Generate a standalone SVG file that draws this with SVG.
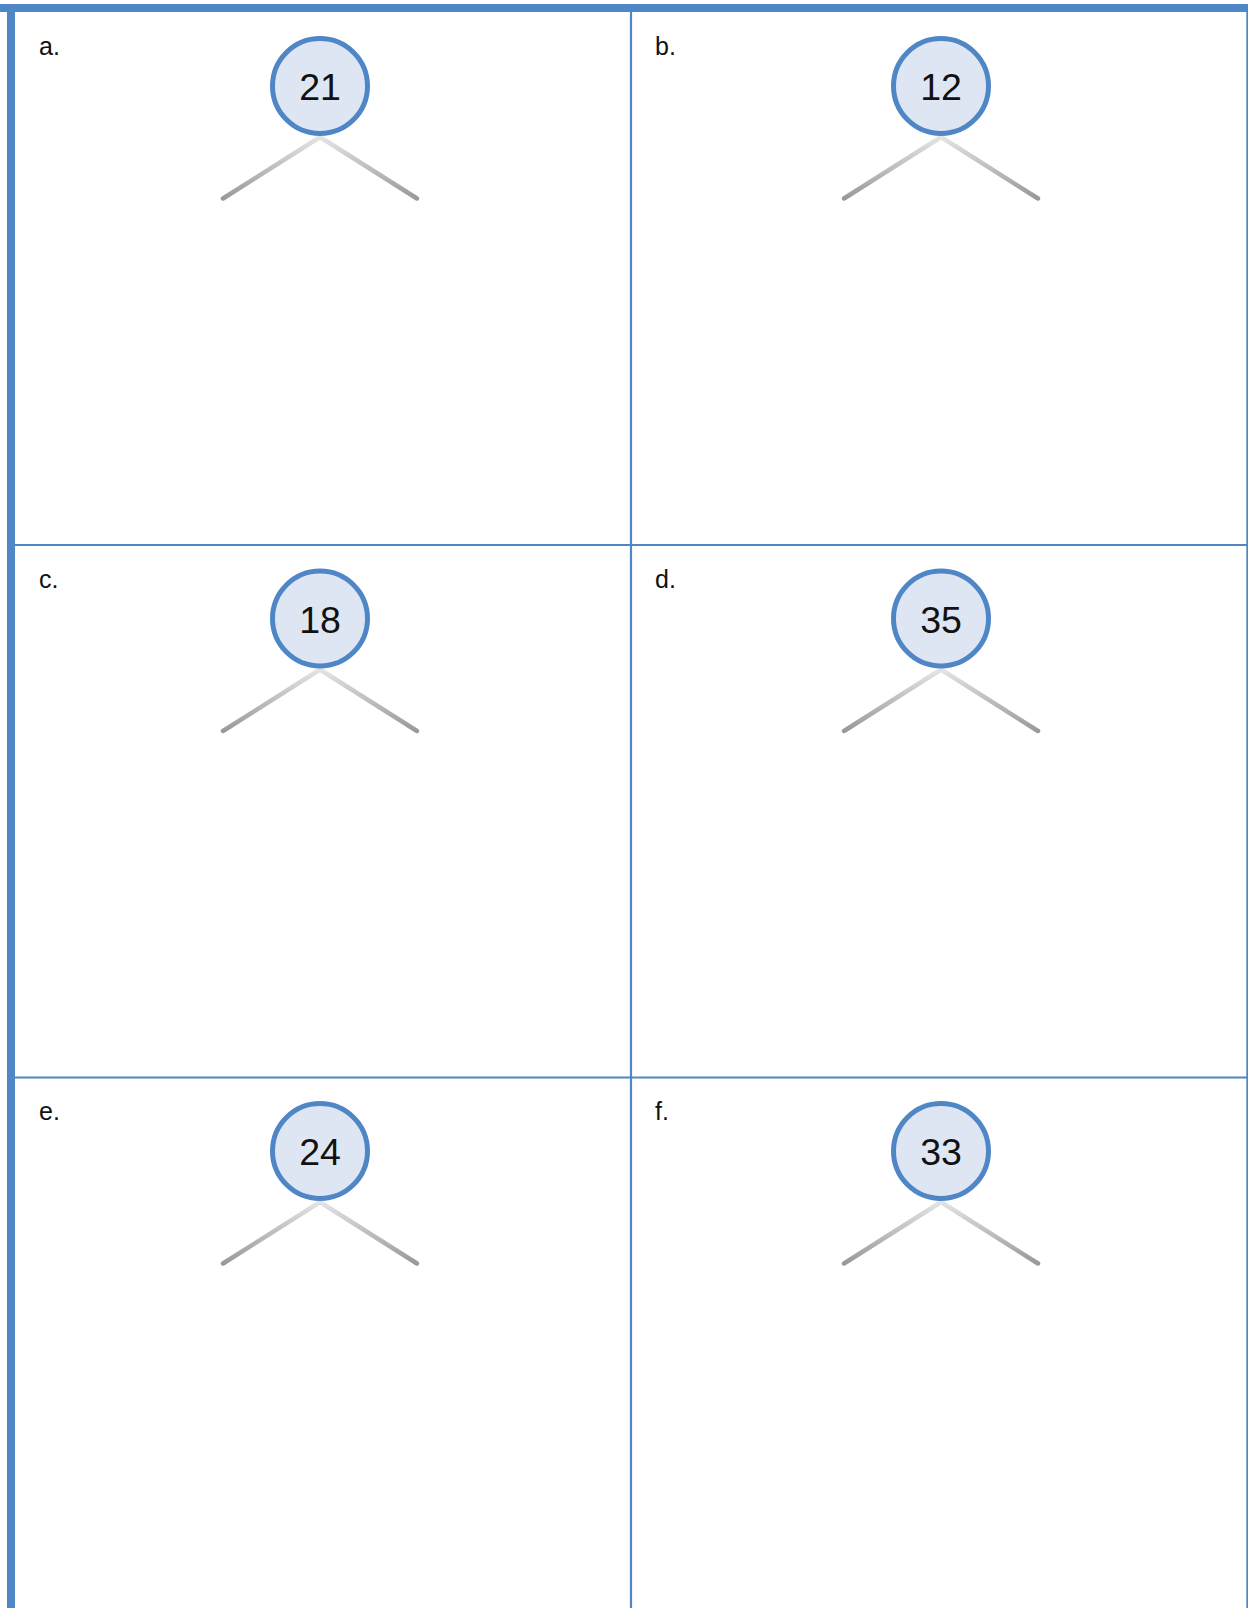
<svg xmlns="http://www.w3.org/2000/svg" width="1248" height="1608" viewBox="0 0 1248 1608">
  <style>
    .frame { fill: #4f86c6; }
    .div { stroke: #4f86c6; stroke-width: 2.2; }
    .node circle { fill: #dfe6f3; stroke: #4f86c6; stroke-width: 5; }
    .num { font-family: "Liberation Sans", Arial, sans-serif; font-size: 37.5px; fill: #111; text-anchor: middle; }
    .lbl { font-family: "Liberation Sans", Arial, sans-serif; font-size: 25px; fill: #111; }
    .edge { stroke: url(#g); stroke-width: 4.5; stroke-linecap: round; fill: none; }
  </style>
  <defs>
    <linearGradient id="g" x1="0" y1="0" x2="0" y2="1">
      <stop offset="0" stop-color="#e4e4e4"/>
      <stop offset="1" stop-color="#999999"/>
    </linearGradient>
  </defs>
  <rect x="0" y="0" width="1248" height="1608" fill="#ffffff"/>
  <g id="frame">
    <rect class="frame" x="0" y="4" width="1248" height="8"/>
    <rect class="frame" x="7" y="4" width="8" height="1604"/>
    <rect class="frame" x="1246.3" y="4" width="1.7" height="1604"/>
    <line class="div" x1="631" y1="12" x2="631" y2="1608"/>
    <line class="div" x1="15" y1="545" x2="1247" y2="545"/>
    <line class="div" x1="15" y1="1077.5" x2="1247" y2="1077.5"/>
  </g>
  <g id="labels">
    <text class="lbl" x="39" y="55">a.</text>
    <text class="lbl" x="655" y="55">b.</text>
    <text class="lbl" x="39" y="587.5">c.</text>
    <text class="lbl" x="655" y="587.5">d.</text>
    <text class="lbl" x="39" y="1120">e.</text>
    <text class="lbl" x="655" y="1120">f.</text>
  </g>
  <g id="connectors">
    <line class="edge" x1="320" y1="137" x2="223" y2="198.5"/>
    <line class="edge" x1="320" y1="137" x2="417" y2="198.5"/>
    <line class="edge" x1="941" y1="137" x2="844" y2="198.5"/>
    <line class="edge" x1="941" y1="137" x2="1038" y2="198.5"/>
    <line class="edge" x1="320" y1="669.5" x2="223" y2="731"/>
    <line class="edge" x1="320" y1="669.5" x2="417" y2="731"/>
    <line class="edge" x1="941" y1="669.5" x2="844" y2="731"/>
    <line class="edge" x1="941" y1="669.5" x2="1038" y2="731"/>
    <line class="edge" x1="320" y1="1202" x2="223" y2="1263.5"/>
    <line class="edge" x1="320" y1="1202" x2="417" y2="1263.5"/>
    <line class="edge" x1="941" y1="1202" x2="844" y2="1263.5"/>
    <line class="edge" x1="941" y1="1202" x2="1038" y2="1263.5"/>
  </g>
  <g id="node-a" class="node">
    <circle cx="320" cy="86" r="47.5"/>
    <text class="num" x="320" y="100">21</text>
  </g>
  <g id="node-b" class="node">
    <circle cx="941" cy="86" r="47.5"/>
    <text class="num" x="941" y="100">12</text>
  </g>
  <g id="node-c" class="node">
    <circle cx="320" cy="618.5" r="47.5"/>
    <text class="num" x="320" y="632.5">18</text>
  </g>
  <g id="node-d" class="node">
    <circle cx="941" cy="618.5" r="47.5"/>
    <text class="num" x="941" y="632.5">35</text>
  </g>
  <g id="node-e" class="node">
    <circle cx="320" cy="1151" r="47.5"/>
    <text class="num" x="320" y="1165">24</text>
  </g>
  <g id="node-f" class="node">
    <circle cx="941" cy="1151" r="47.5"/>
    <text class="num" x="941" y="1165">33</text>
  </g>
</svg>
